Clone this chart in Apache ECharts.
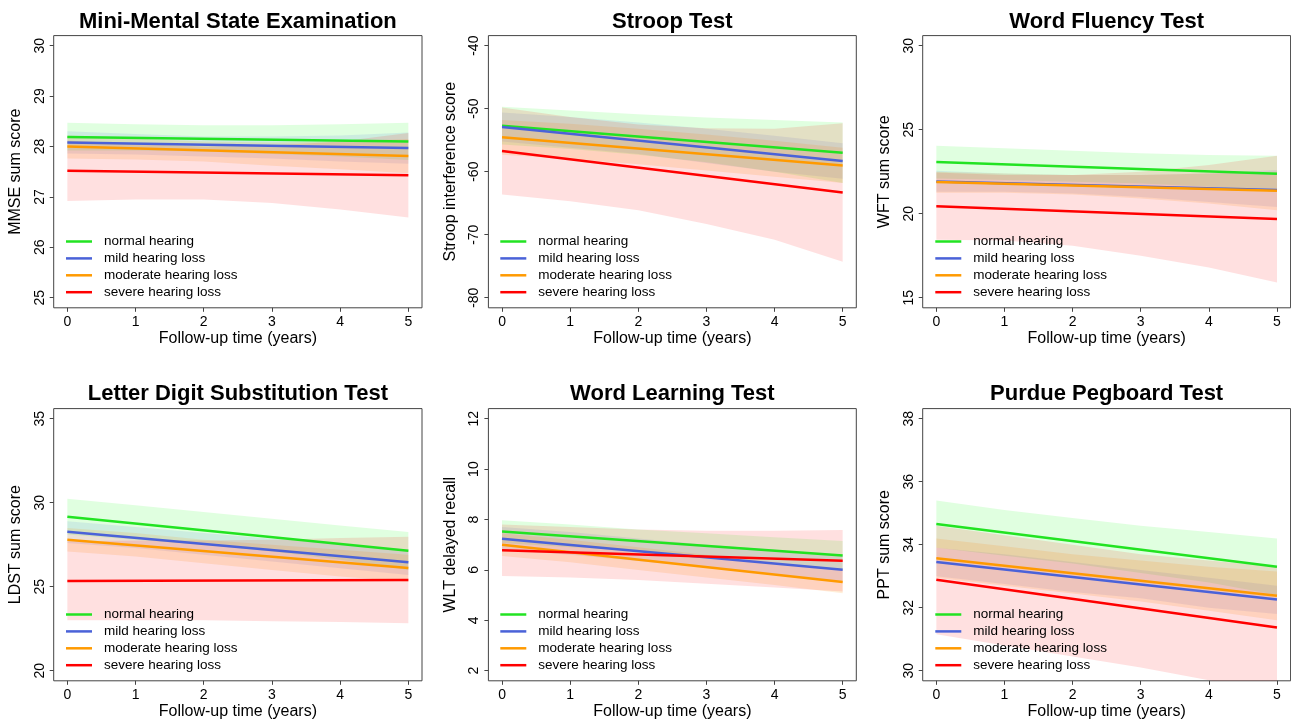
<!DOCTYPE html>
<html><head><meta charset="utf-8">
<script src="https://cdn.jsdelivr.net/npm/echarts@6/dist/echarts.min.js"></script>
<style>html,body{margin:0;padding:0;background:#fff}#c{width:1291px;height:721px}</style>
</head><body><div id="c"></div>
<script>
// ---------- DATA ----------
const groups = ['normal hearing', 'mild hearing loss', 'moderate hearing loss', 'severe hearing loss'];
const years = [0, 1, 2, 3, 4, 5];
const xTicks = [0, 1, 2, 3, 4, 5];

// Mini-Mental State Examination
const mmseTicks = [25, 26, 27, 28, 29, 30];
const mmseStart = [28.19, 28.08, 28.00, 27.52];
const mmseEnd = [28.10, 27.97, 27.81, 27.43];
const mmseLower = [
  [27.92, 27.92, 27.90, 27.85, 27.80, 27.73],
  [27.86, 27.84, 27.80, 27.76, 27.70, 27.66],
  [27.76, 27.74, 27.70, 27.62, 27.55, 27.47],
  [26.92, 26.95, 26.95, 26.88, 26.75, 26.59]
];
const mmseUpper = [
  [28.47, 28.44, 28.42, 28.42, 28.44, 28.47],
  [28.30, 28.25, 28.20, 28.20, 28.22, 28.28],
  [28.22, 28.16, 28.10, 28.08, 28.10, 28.15],
  [28.12, 28.05, 28.00, 28.02, 28.10, 28.27]
];

// Stroop Test
const stroopTicks = [-80, -70, -60, -50, -40];
const stroopStart = [-52.7, -52.9, -54.55, -56.7];
const stroopEnd = [-57.0, -58.3, -59.0, -63.3];
const stroopLower = [
  [-55.7, -56.4, -57.3, -58.5, -60.0, -61.8],
  [-55.2, -56.2, -57.2, -58.6, -60.0, -61.1],
  [-57.3, -58.0, -58.8, -59.8, -60.8, -61.8],
  [-63.6, -64.7, -66.1, -68.3, -70.8, -74.3]
];
const stroopUpper = [
  [-49.7, -50.3, -50.9, -51.4, -51.8, -52.2],
  [-50.6, -51.3, -52.2, -53.2, -54.3, -55.5],
  [-51.8, -52.4, -53.2, -54.1, -55.1, -56.2],
  [-49.8, -51.3, -52.5, -53.1, -53.2, -52.3]
];

// Word Fluency Test
const wftTicks = [15, 20, 25, 30];
const wftStart = [23.07, 21.92, 21.88, 20.44];
const wftEnd = [22.38, 21.41, 21.37, 19.68];
const wftLower = [
  [22.10, 22.00, 21.90, 21.80, 21.60, 21.30],
  [21.30, 21.30, 21.20, 21.00, 20.70, 20.40],
  [21.25, 21.25, 21.15, 20.90, 20.60, 20.20],
  [18.45, 18.40, 18.10, 17.50, 16.80, 15.90]
];
const wftUpper = [
  [24.05, 23.90, 23.75, 23.60, 23.50, 23.45],
  [22.55, 22.40, 22.30, 22.30, 22.40, 22.60],
  [22.50, 22.40, 22.30, 22.30, 22.40, 22.50],
  [22.45, 22.30, 22.30, 22.50, 22.90, 23.45]
];

// Letter Digit Substitution Test
const ldstTicks = [20, 25, 30, 35];
const ldstStart = [29.17, 28.27, 27.80, 25.34];
const ldstEnd = [27.14, 26.45, 26.11, 25.40];
const ldstLower = [
  [28.10, 27.80, 27.50, 27.10, 26.60, 26.00],
  [27.60, 27.30, 26.90, 26.50, 26.10, 25.70],
  [27.10, 26.80, 26.40, 26.00, 25.60, 25.30],
  [23.00, 23.00, 23.00, 22.95, 22.90, 22.82]
];
const ldstUpper = [
  [30.24, 29.85, 29.45, 29.05, 28.65, 28.26],
  [28.90, 28.55, 28.20, 27.85, 27.55, 27.20],
  [28.50, 28.20, 27.80, 27.50, 27.20, 26.90],
  [27.70, 27.75, 27.75, 27.80, 27.90, 27.98]
];

// Word Learning Test
const wltTicks = [2, 4, 6, 8, 10, 12];
const wltStart = [7.52, 7.24, 7.00, 6.78];
const wltEnd = [6.57, 6.01, 5.52, 6.36];
const wltLower = [
  [7.07, 6.90, 6.75, 6.55, 6.30, 6.00],
  [6.80, 6.60, 6.35, 6.10, 5.80, 5.50],
  [6.55, 6.30, 6.00, 5.70, 5.40, 5.07],
  [5.76, 5.70, 5.60, 5.45, 5.30, 5.14]
];
const wltUpper = [
  [7.97, 7.80, 7.60, 7.45, 7.30, 7.15],
  [7.70, 7.50, 7.25, 7.00, 6.80, 6.55],
  [7.45, 7.20, 6.90, 6.60, 6.30, 6.00],
  [7.80, 7.70, 7.60, 7.55, 7.55, 7.58]
];

// Purdue Pegboard Test
const pptTicks = [30, 32, 34, 36, 38];
const pptStart = [34.66, 33.45, 33.57, 32.89];
const pptEnd = [33.30, 32.26, 32.38, 31.37];
const pptLower = [
  [33.90, 33.65, 33.40, 33.10, 32.80, 32.40],
  [33.00, 32.75, 32.50, 32.30, 32.00, 31.80],
  [32.95, 32.70, 32.45, 32.20, 31.90, 31.60],
  [31.16, 30.80, 30.45, 30.10, 29.70, 29.30]
];
const pptUpper = [
  [35.40, 35.10, 34.85, 34.60, 34.40, 34.20],
  [33.90, 33.70, 33.45, 33.20, 32.95, 32.70],
  [34.20, 33.95, 33.70, 33.50, 33.30, 33.15],
  [34.60, 34.30, 34.00, 33.70, 33.50, 33.30]
];

const panelTitles = ['Mini-Mental State Examination', 'Stroop Test', 'Word Fluency Test',
  'Letter Digit Substitution Test', 'Word Learning Test', 'Purdue Pegboard Test'];
const yNames = ['MMSE sum score', 'Stroop interference score', 'WFT sum score',
  'LDST sum score', 'WLT delayed recall', 'PPT sum score'];
const xName = 'Follow-up time (years)';

// ---------- STYLE / LAYOUT ----------
const lineColors = ['#22e322', '#4a62d8', '#ff9a00', '#ff0000'];
const bandColors = ['rgba(0,255,0,0.12)', 'rgba(65,105,225,0.12)', 'rgba(255,150,0,0.15)', 'rgba(255,0,0,0.12)'];
const FONT = 'Liberation Sans, Arial, sans-serif';

const panels = [
  {ticks: mmseTicks, start: mmseStart, end: mmseEnd, lower: mmseLower, upper: mmseUpper},
  {ticks: stroopTicks, start: stroopStart, end: stroopEnd, lower: stroopLower, upper: stroopUpper},
  {ticks: wftTicks, start: wftStart, end: wftEnd, lower: wftLower, upper: wftUpper},
  {ticks: ldstTicks, start: ldstStart, end: ldstEnd, lower: ldstLower, upper: ldstUpper},
  {ticks: wltTicks, start: wltStart, end: wltEnd, lower: wltLower, upper: wltUpper},
  {ticks: pptTicks, start: pptStart, end: pptEnd, lower: pptLower, upper: pptUpper}
];

const colLeft = [53.7, 488.4, 922.7];
const colWidth = [368.3, 367.9, 367.9];
const rowTop = [35.6, 408.6];
const rowHeight = 272.2;
const titleY = [20.7, 393];
const legendLeft = [66, 500.3, 935.3];
const legendTop = [233.5, 606.5];

const grids = [], xAxes = [], yAxes = [], series = [], titles = [], legends = [];

panels.forEach((p, i) => {
  const c = i % 3, r = Math.floor(i / 3);
  grids.push({left: colLeft[c], top: rowTop[r], width: colWidth[c], height: rowHeight,
    show: true, borderColor: '#444', borderWidth: 1, backgroundColor: 'transparent', containLabel: false});
  const xr = xTicks[xTicks.length - 1] - xTicks[0];
  xAxes.push({type: 'value', gridIndex: i, min: xTicks[0] - 0.04 * xr, max: xTicks[xTicks.length - 1] + 0.04 * xr,
    axisLine: {show: false, onZero: false}, splitLine: {show: false},
    axisTick: {show: true, inside: false, length: 4, customValues: xTicks, lineStyle: {color: '#444'}},
    axisLabel: {customValues: xTicks, fontSize: 14, color: '#000', fontFamily: FONT, margin: 7},
    name: xName, nameLocation: 'middle', nameGap: 23,
    nameTextStyle: {fontSize: 16, color: '#000', fontFamily: FONT}});
  const t = p.ticks, yr = t[t.length - 1] - t[0];
  yAxes.push({type: 'value', gridIndex: i, min: t[0] - 0.04 * yr, max: t[t.length - 1] + 0.04 * yr,
    axisLine: {show: false, onZero: false}, splitLine: {show: false},
    axisTick: {show: true, inside: false, length: 4, customValues: t, lineStyle: {color: '#444'}},
    axisLabel: {customValues: t, fontSize: 14, color: '#000', fontFamily: FONT, rotate: 90,
      align: 'center', verticalAlign: 'bottom', margin: 7},
    name: yNames[i], nameLocation: 'middle', nameGap: 30,
    nameTextStyle: {fontSize: 16, color: '#000', fontFamily: FONT}});
  titles.push({text: panelTitles[i], left: colLeft[c] + colWidth[c] / 2, top: titleY[r] - 10,
    textAlign: 'center', padding: 0,
    textStyle: {fontSize: 22, fontWeight: 'bold', color: '#000', fontFamily: FONT}});
  legends.push({data: groups.map(g => ({name: g, icon: 'rect'})), orient: 'vertical',
    left: legendLeft[c], top: legendTop[r], itemWidth: 26, itemHeight: 2.5, itemGap: 0.9,
    padding: 0, selectedMode: false,
    textStyle: {fontSize: 13.5, color: '#000', fontFamily: FONT, lineHeight: 16, padding: [0, 0, 0, 7]}});

  // confidence bands
  groups.forEach((g, gi) => {
    const lo = p.lower[gi], up = p.upper[gi];
    series.push({type: 'custom', name: 'band', xAxisIndex: i, yAxisIndex: i, silent: true, clip: true,
      data: years.map((x, k) => [x, lo[k], up[k]]),
      renderItem: function (params, api) {
        if (params.dataIndex !== 0) return null;
        const pts = [];
        years.forEach((x, k) => pts.push(api.coord([x, up[k]])));
        for (let k = years.length - 1; k >= 0; k--) pts.push(api.coord([years[k], lo[k]]));
        return {type: 'polygon', shape: {points: pts}, style: {fill: bandColors[gi], stroke: null}};
      },
      z: 1});
  });
  // fitted lines
  groups.forEach((g, gi) => {
    series.push({type: 'line', name: g, xAxisIndex: i, yAxisIndex: i, silent: true,
      data: [[years[0], p.start[gi]], [years[years.length - 1], p.end[gi]]],
      showSymbol: false, symbol: 'none', color: lineColors[gi],
      lineStyle: {width: 2.5, color: lineColors[gi]}, z: 3});
  });
});

const chart = echarts.init(document.getElementById('c'));
chart.setOption({animation: false, backgroundColor: '#fff',
  title: titles, legend: legends, grid: grids, xAxis: xAxes, yAxis: yAxes, series: series});
</script></body></html>
